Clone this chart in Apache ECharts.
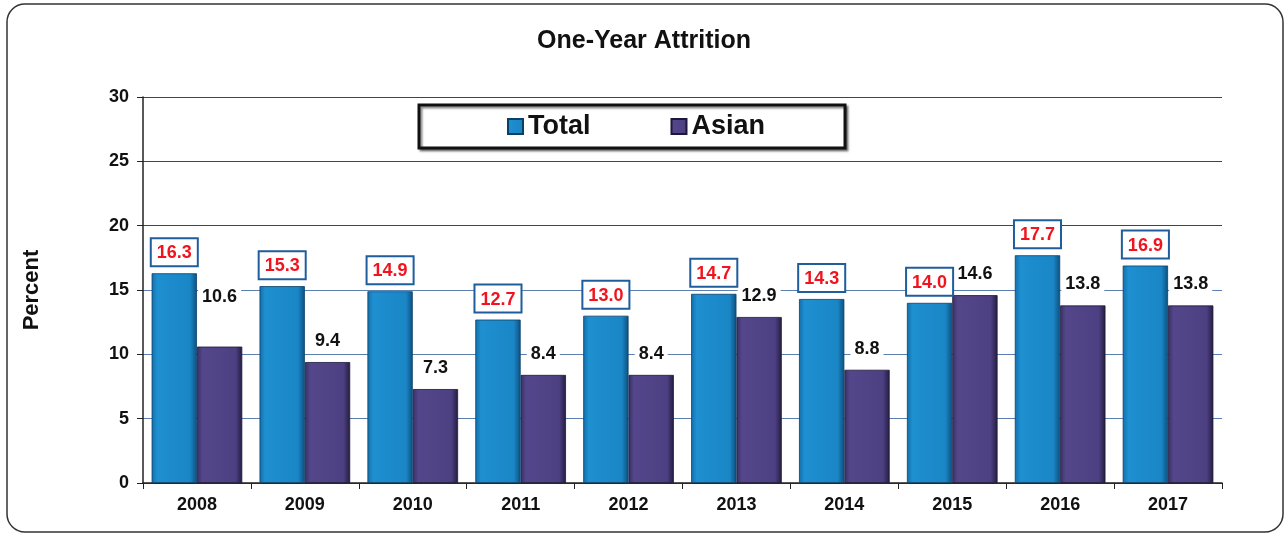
<!DOCTYPE html>
<html>
<head>
<meta charset="utf-8">
<script src="https://cdn.jsdelivr.net/npm/echarts@6/dist/echarts.min.js"></script>
<style>
  html, body { margin: 0; padding: 0; background: #fff; }
  #chart { width: 1288px; height: 537px; }
</style>
</head>
<body>
<div id="chart"></div>
<script>
// One-year attrition rates by year
const years = ['2008', '2009', '2010', '2011', '2012', '2013', '2014', '2015', '2016', '2017'];
const totalRate = [16.3, 15.3, 14.9, 12.7, 13.0, 14.7, 14.3, 14.0, 17.7, 16.9];
const asianRate = [10.6, 9.4, 7.3, 8.4, 8.4, 12.9, 8.8, 14.6, 13.8, 13.8];
const yTicks = [0, 5, 10, 15, 20, 25, 30];

const FONT = '"Liberation Sans", Arial, sans-serif';

const chart = echarts.init(document.getElementById('chart'), null, { renderer: 'canvas' });

// Bevelled-looking fills
const totalFill = new echarts.graphic.LinearGradient(0, 0, 1, 0, [
  { offset: 0, color: '#136ea8' },
  { offset: 0.12, color: '#1e8fd0' },
  { offset: 0.85, color: '#1a86c6' },
  { offset: 1, color: '#0d4f7e' }
]);
const asianFill = new echarts.graphic.LinearGradient(0, 0, 1, 0, [
  { offset: 0, color: '#3a2f66' },
  { offset: 0.12, color: '#54468a' },
  { offset: 0.85, color: '#4d4082' },
  { offset: 1, color: '#231c40' }
]);

chart.setOption({
  animation: false,
  backgroundColor: '#fff',
  textStyle: { fontFamily: FONT },
  title: {
    text: 'One-Year Attrition',
    left: 'center',
    top: 24,
    textStyle: { fontFamily: FONT, fontSize: 25, fontWeight: 'bold', color: '#111' }
  },
  legend: {
    data: ['Total', 'Asian'],
    icon: 'rect',
    left: 419,
    top: 105,
    width: 424,
    height: 38,
    itemGap: 80,
    itemWidth: 15,
    itemHeight: 15,
    padding: [8, 80, 8, 88],
    borderColor: '#111',
    borderWidth: 3,
    shadowColor: 'rgba(0,0,0,0.45)',
    shadowOffsetX: 2,
    shadowOffsetY: 2,
    shadowBlur: 2,
    backgroundColor: '#fff',
    textStyle: { fontFamily: FONT, fontSize: 27, fontWeight: 'bold', color: '#111', padding: [2, 0, 0, 0] }
  },
  grid: { left: 143, right: 66, top: 97, bottom: 54, containLabel: false },
  xAxis: {
    type: 'category',
    data: years,
    axisLine: { lineStyle: { color: '#222', width: 1.5 } },
    axisTick: { show: true, alignWithLabel: false, length: 6, lineStyle: { color: '#222' } },
    axisLabel: { fontFamily: FONT, fontSize: 18, fontWeight: 'bold', color: '#111', margin: 13 }
  },
  yAxis: {
    type: 'value',
    min: yTicks[0],
    max: yTicks[yTicks.length - 1],
    interval: yTicks[1] - yTicks[0],
    name: 'Percent',
    nameLocation: 'middle',
    nameGap: 100,
    nameRotate: 90,
    nameTextStyle: { fontFamily: FONT, fontSize: 22, fontWeight: 'bold', color: '#111' },
    axisLine: { show: true, lineStyle: { color: '#222', width: 1.5 } },
    axisTick: { show: true, length: 6, lineStyle: { color: '#222' } },
    axisLabel: { fontFamily: FONT, fontSize: 18, fontWeight: 'bold', color: '#111', margin: 14 },
    splitLine: {
      show: true,
      lineStyle: {
        color: ['#444', '#5a7fb0', '#5a7fb0', '#5a7fb0', '#444', '#444', '#444'],
        width: 1.2
      }
    }
  },
  series: [
    {
      name: 'Total',
      type: 'bar',
      data: totalRate,
      barGap: '0%',
      barCategoryGap: '16%',
      itemStyle: { color: totalFill, borderColor: '#0b3f66', borderWidth: 0.8 },
      label: {
        show: true,
        position: 'top',
        distance: 8,
        formatter: p => p.value.toFixed(1),
        fontFamily: FONT,
        fontSize: 18,
        fontWeight: 'bold',
        color: '#f0141e',
        backgroundColor: '#fff',
        borderColor: '#1f5d9c',
        borderWidth: 2,
        padding: [5, 5, 3, 5]
      },
      z: 3
    },
    {
      name: 'Asian',
      type: 'bar',
      data: asianRate.map((v, i) => i === 0
        ? { value: v, label: { distance: 38 } }
        : v),
      itemStyle: { color: asianFill, borderColor: '#1e1838', borderWidth: 0.8 },
      label: {
        show: true,
        position: 'top',
        distance: 9,
        formatter: p => p.value.toFixed(1),
        fontFamily: FONT,
        fontSize: 18,
        fontWeight: 'bold',
        color: '#111',
        backgroundColor: '#fff',
        padding: [3, 4, 3, 4]
      },
      z: 2
    }
  ],
  graphic: [
    {
      type: 'rect',
      shape: { x: 7, y: 4, width: 1276, height: 528, r: 18 },
      style: { fill: 'none', stroke: '#333', lineWidth: 1.5 },
      silent: true,
      z: 100
    }
  ]
});
</script>
</body>
</html>
